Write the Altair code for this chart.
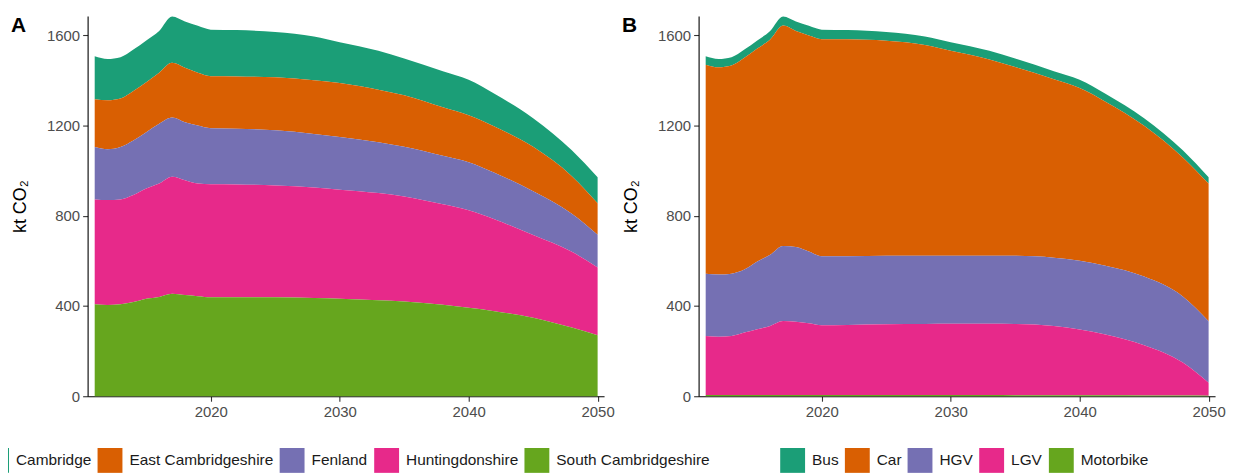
import altair as alt
import pandas as pd

years = [2011, 2012, 2013, 2014, 2015, 2016, 2017, 2018, 2019, 2020, 2022,
         2025, 2028, 2030, 2033, 2035, 2038, 2040, 2042, 2045, 2048, 2050]

# Panel A: by district (kt CO2)
districts = ["Cambridge", "East Cambridgeshire", "Fenland", "Huntingdonshire", "South Cambridgeshire"]
cambridge = [190, 183, 183, 184, 185, 185, 205, 205, 208, 206, 205, 201, 194, 180, 172, 163, 160, 157, 145, 127, 115, 115]
east_cambs = [212, 217, 215, 219, 221, 226, 242, 241, 234, 231, 232, 235, 238, 240, 233, 228, 215, 208, 205, 197, 167, 140]
fenland = [232, 225, 232, 242, 250, 265, 263, 257, 257, 248, 247, 244, 237, 233, 225, 220, 215, 213, 206, 194, 168, 145]
hunts = [465, 465, 465, 474, 488, 502, 518, 509, 499, 501, 499, 496, 490, 483, 475, 465, 445, 432, 407, 366, 336, 300]
south_cambs = [407, 404, 407, 417, 432, 440, 454, 448, 443, 438, 439, 438, 435, 432, 425, 420, 405, 392, 377, 348, 304, 270]

# Panel B: by vehicle type (kt CO2)
modes = ["Bus", "Car", "HGV", "LGV", "Motorbike"]
bus = [37, 37, 37, 37, 36, 38, 40, 42, 43, 42, 41, 39, 38, 38, 38, 38, 36, 37, 35, 34, 32, 28]
car = [926, 918, 922, 938, 943, 953, 976, 957, 957, 962, 961, 953, 934, 908, 870, 836, 790, 765, 727, 668, 616, 610]
hgv = [276, 275, 276, 279, 300, 316, 333, 331, 318, 306, 304, 303, 302, 301, 301, 302, 303, 304, 304, 304, 293, 272]
lgv = [262, 259, 262, 277, 292, 306, 328, 325, 318, 309, 311, 314, 315, 316, 316, 316, 307, 292, 270, 223, 146, 58]
motorbike = [5, 5, 5, 5, 5, 5, 5, 5, 5, 5, 5, 5, 5, 5, 5, 4, 4, 4, 4, 3, 3, 2]

colors = ["#1B9E77", "#D95F02", "#7570B3", "#E7298A", "#66A61E"]
x_ticks = [2020, 2030, 2040, 2050]
y_ticks = [0, 400, 800, 1200, 1600]
panel_tags = ["A", "B"]

FONT = "Liberation Sans, Arial, DejaVu Sans"


def long_frame(cats, series):
    rows = []
    n = len(cats)
    for i, (c, vals) in enumerate(zip(cats, series)):
        for yr, v in zip(years, vals):
            rows.append({"year": yr, "value": v, "cat": c, "ord": n - 1 - i})
    return pd.DataFrame(rows)


def panel(df, cats, tag, legend_x):
    area = alt.Chart(df).mark_area(interpolate="monotone").encode(
        x=alt.X("year:Q",
                scale=alt.Scale(domain=[2010.45, 2050.5], nice=False, zero=False),
                axis=alt.Axis(values=x_ticks, format="d", title=None)),
        y=alt.Y("value:Q", stack="zero",
                scale=alt.Scale(domain=[0, 1684], nice=False),
                axis=alt.Axis(values=y_ticks, format="d", title="kt CO₂")),
        color=alt.Color("cat:N",
                        scale=alt.Scale(domain=cats, range=colors),
                        legend=alt.Legend(orient="none", legendX=legend_x, legendY=434,
                                          direction="horizontal", title=None,
                                          symbolType="square", symbolSize=625,
                                          symbolStrokeWidth=0, symbolOpacity=1,
                                          labelFontSize=15.5, labelFont=FONT,
                                          labelColor="#1a1a1a", labelOffset=7,
                                          columnPadding=6)),
        order=alt.Order("ord:Q", sort="ascending"),
    )
    label = alt.Chart(pd.DataFrame({"tag": [tag]})).mark_text(
        align="left", baseline="alphabetic", font=FONT, fontSize=21,
        fontWeight="bold", color="#000000",
    ).encode(text="tag:N", x=alt.value(-77), y=alt.value(16))
    return alt.layer(area, label).properties(width=519, height=382)


df_a = long_frame(districts, [cambridge, east_cambs, fenland, hunts, south_cambs])
df_b = long_frame(modes, [bus, car, hgv, lgv, motorbike])

chart = alt.hconcat(
    panel(df_a, districts, panel_tags[0], -104),
    panel(df_b, modes, panel_tags[1], 82),
    spacing=95, bounds="flush",
).resolve_scale(color="independent").properties(
    padding={"left": -24, "top": 6, "right": 0, "bottom": 0}
).configure_view(strokeWidth=0).configure_axis(
    grid=False, domainColor="#000000", domainWidth=1.1,
    tickColor="#333333", tickSize=5, tickWidth=1.1,
    labelColor="#4d4d4d", labelFontSize=15, labelFont=FONT, labelPadding=3,
    titleFont=FONT, titleFontSize=18, titleFontWeight="normal",
    titleColor="#000000", titlePadding=17,
)

chart.save("out.html", embed_options={"renderer": "svg", "actions": False})
